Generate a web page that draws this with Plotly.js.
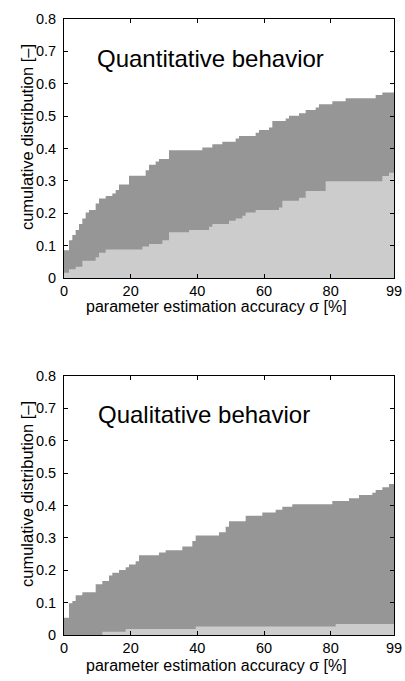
<!DOCTYPE html>
<html>
<head>
<meta charset="utf-8">
<script src="https://cdn.plot.ly/plotly-3.0.1.min.js"></script>
<style>html,body{margin:0;padding:0;background:#fff;}#chart{width:405px;height:681px;}</style>
</head>
<body>
<div id="chart"></div>
<script>
// sigma [%] positions (0..99)
const sigma = Array.from({length: 100}, (_, i) => i);

function runs(pairs) { // [value, count] pairs -> list
  const out = [];
  pairs.forEach(([v, n]) => { for (let i = 0; i < n; i++) out.push(v); });
  return out;
}

// Quantitative behavior: total (dark) and lower part (light)
const quantTotal = runs([
  [0.086,2],[0.117,1],[0.133,1],[0.148,1],[0.167,1],[0.184,1],[0.202,1],[0.21,2],
  [0.23,1],[0.246,2],[0.253,2],[0.261,1],[0.272,1],[0.289,3],[0.316,5],[0.333,1],
  [0.35,2],[0.36,1],[0.368,3],[0.395,10],[0.403,3],[0.413,3],[0.421,4],[0.431,1],
  [0.439,5],[0.449,1],[0.457,3],[0.465,1],[0.485,4],[0.493,1],[0.501,3],[0.509,2],
  [0.519,3],[0.527,1],[0.537,4],[0.546,4],[0.555,9],[0.565,2],[0.573,4]
]);
const quantLower = runs([
  [0.016,2],[0.027,2],[0.035,2],[0.053,4],[0.064,1],[0.078,2],[0.088,11],[0.097,2],
  [0.105,4],[0.117,2],[0.141,6],[0.148,6],[0.158,1],[0.167,5],[0.177,2],[0.184,2],
  [0.192,1],[0.202,3],[0.21,7],[0.218,1],[0.239,5],[0.248,2],[0.269,6],[0.299,17],
  [0.315,2],[0.325,2]
]);

// Qualitative behavior
const qualTotal = runs([
  [0.053,2],[0.098,1],[0.105,1],[0.123,2],[0.132,4],[0.157,2],[0.167,2],[0.184,1],
  [0.192,2],[0.201,2],[0.209,1],[0.218,2],[0.228,1],[0.246,6],[0.255,2],[0.262,5],
  [0.273,3],[0.29,1],[0.307,7],[0.317,2],[0.334,1],[0.351,5],[0.368,5],[0.378,4],
  [0.387,2],[0.396,3],[0.404,12],[0.414,5],[0.422,3],[0.432,4],[0.439,1],[0.448,2],
  [0.456,2],[0.466,2]
]);
const qualLower = runs([
  [0,12],[0.01,7],[0.0185,21],[0.026,42],[0.034,18]
]);

const yTicks = [0, 0.1, 0.2, 0.3, 0.4, 0.5, 0.6, 0.7, 0.8];
const yTickText = ['0', '0.1', '0.2', '0.3', '0.4', '0.5', '0.6', '0.7', '0.8'];
const xTicks = [0, 20, 40, 60, 80, 99];
const xTickText = ['0', '20', '40', '60', '80', '99'];
const xTitle = 'parameter estimation accuracy σ [%]';
const yTitle = 'cumulative distribution [–]';

const dark = 'rgb(150,150,150)';
const light = 'rgb(204,204,204)';

function area(y, color, xa, ya) {
  return {x: sigma, y: y, type: 'scatter', mode: 'lines', fill: 'tozeroy',
    fillcolor: color, line: {width: 0, shape: 'hvh', color: color},
    xaxis: xa, yaxis: ya, hoverinfo: 'skip', showlegend: false};
}

const data = [
  area(quantTotal, dark, 'x', 'y'),
  area(quantLower, light, 'x', 'y'),
  area(qualTotal, dark, 'x2', 'y2'),
  area(qualLower, light, 'x2', 'y2')
];

const fam = 'Liberation Sans, Arial, sans-serif';
const tickFont = {family: fam, size: 14.5, color: '#000'};

function xaxis(anchor) {
  return {anchor: anchor, range: [0, 99], tickvals: xTicks, ticktext: xTickText,
    ticks: 'inside', ticklen: 4, tickcolor: '#000', showline: true, linecolor: '#000',
    linewidth: 1, mirror: 'ticks', showgrid: false, zeroline: false,
    tickfont: tickFont, fixedrange: true};
}
function yaxis(anchor, domain) {
  return {anchor: anchor, domain: domain, range: [0, 0.8], tickvals: yTicks, ticktext: yTickText,
    ticks: 'inside', ticklen: 4, tickcolor: '#000', showline: true, linecolor: '#000',
    linewidth: 1, mirror: 'ticks', showgrid: false, zeroline: false,
    tickfont: tickFont, ticklabelstandoff: 4, fixedrange: true};
}

function label(text, x, y, angle, size) {
  return {text: text, xref: 'paper', yref: 'paper', x: x, y: y, xanchor: 'center', yanchor: 'middle',
    textangle: angle, showarrow: false, font: {family: fam, size: size, color: '#000'}};
}

const layout = {
  width: 405, height: 681,
  margin: {l: 64, r: 11, t: 19, b: 46},
  paper_bgcolor: '#fff', plot_bgcolor: '#fff',
  font: {family: fam, size: 14.5, color: '#000'},
  xaxis: xaxis('y'),
  yaxis: yaxis('x', [0.5795, 1]),
  xaxis2: xaxis('y2'),
  yaxis2: yaxis('x2', [0, 0.4205]),
  annotations: [
    {text: 'Quantitative behavior', xref: 'x domain', yref: 'y domain', x: 0.095, y: 0.849,
     xanchor: 'left', yanchor: 'middle', showarrow: false, font: {family: fam, size: 24, color: '#000'}},
    {text: 'Qualitative behavior', xref: 'x2 domain', yref: 'y2 domain', x: 0.098, y: 0.853,
     xanchor: 'left', yanchor: 'middle', showarrow: false, font: {family: fam, size: 24, color: '#000'}},
    label(xTitle, 0.4636, 0.5335, 0, 16),
    label(xTitle, 0.4636, -0.0495, 0, 16),
    label(yTitle, -0.112, 0.8084, -90, 16.5),
    label(yTitle, -0.112, 0.2289, -90, 16.5)
  ]
};

Plotly.newPlot('chart', data, layout, {staticPlot: true, displayModeBar: false});
</script>
</body>
</html>
